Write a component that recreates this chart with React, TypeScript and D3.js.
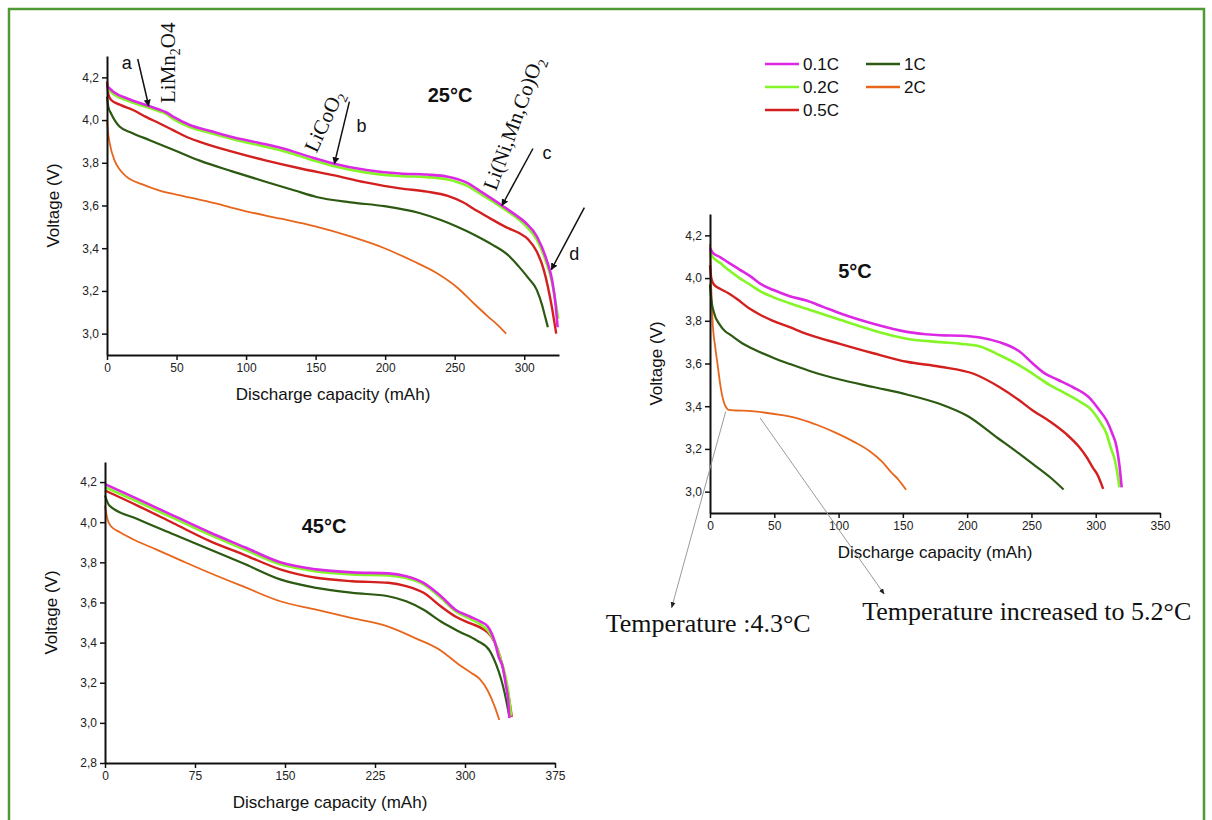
import React, { useEffect, useRef } from 'react';
import * as d3 from 'd3';

type Pt = [number, number];

const rates = ['0.1C', '0.2C', '0.5C', '1C', '2C'];
const rateColors = ['#dc28e4', '#84f526', '#d3201f', '#2c5a12', '#e8661c'];
const rateWidths = [2.6, 2.6, 2.4, 2.2, 1.8];

// 25°C  [capacity mAh, voltage V]
const t25_01C: Pt[] = [[0, 4.16], [5, 4.13], [15, 4.1], [30, 4.066], [38, 4.048], [42, 4.038], [47.5, 4.016], [59.5, 3.977], [75, 3.948], [90.6, 3.92], [108, 3.895], [126.6, 3.867], [145, 3.83], [162.6, 3.797], [186.6, 3.766], [210.6, 3.75], [230, 3.745], [245, 3.735], [259, 3.706], [270, 3.66], [284, 3.6], [294, 3.555], [301, 3.519], [309, 3.456], [316, 3.347], [320, 3.252], [322.7, 3.127], [324, 3.03]];
const t25_02C: Pt[] = [[0, 4.15], [5, 4.12], [15, 4.09], [30, 4.058], [38, 4.04], [42, 4.03], [47.5, 4.006], [59.5, 3.967], [75, 3.938], [90.6, 3.91], [108, 3.884], [126.6, 3.855], [145, 3.818], [162.6, 3.785], [186.6, 3.754], [210.6, 3.738], [230, 3.733], [245, 3.722], [259, 3.692], [270, 3.648], [284, 3.59], [294, 3.545], [301, 3.505], [309, 3.44], [316, 3.33], [320, 3.24], [322.5, 3.15], [324.5, 3.07]];
const t25_05C: Pt[] = [[0, 4.18], [1, 4.12], [3, 4.094], [10, 4.07], [18.7, 4.047], [28, 4.015], [37.9, 3.984], [47.5, 3.953], [57, 3.922], [66.7, 3.898], [90, 3.852], [114.6, 3.81], [140, 3.772], [162.6, 3.742], [186, 3.708], [210.6, 3.68], [230, 3.665], [245, 3.645], [256, 3.615], [266, 3.575], [277, 3.534], [288, 3.495], [296, 3.472], [303, 3.44], [309, 3.385], [314, 3.3], [317, 3.22], [320, 3.12], [321.5, 3.06], [323, 3.0]];
const t25_1C: Pt[] = [[0, 4.11], [1, 4.06], [3, 4.03], [9, 3.97], [18, 3.94], [30.7, 3.906], [48, 3.86], [66.7, 3.81], [90, 3.76], [114.6, 3.71], [135, 3.67], [150.6, 3.64], [175, 3.615], [199.5, 3.597], [224, 3.566], [240, 3.532], [251, 3.503], [265, 3.46], [277, 3.417], [288, 3.37], [296, 3.315], [303, 3.26], [309, 3.205], [313, 3.13], [315, 3.08], [317, 3.03]];
const t25_2C: Pt[] = [[0, 4.0], [1, 3.93], [2, 3.89], [5.5, 3.81], [9, 3.77], [14, 3.735], [25, 3.7], [37.9, 3.67], [50.7, 3.65], [71.5, 3.62], [100, 3.573], [125, 3.538], [149, 3.503], [175, 3.455], [199.5, 3.4], [220, 3.34], [237, 3.284], [252, 3.215], [264, 3.14], [274, 3.08], [281, 3.04], [287, 3.0]];

// 5°C
const t5_01C: Pt[] = [[0, 4.14], [2, 4.12], [7.8, 4.098], [15, 4.07], [23, 4.04], [31, 4.01], [40, 3.97], [49, 3.945], [62, 3.915], [75, 3.895], [88, 3.865], [101, 3.835], [127, 3.786], [153, 3.748], [179, 3.732], [195, 3.73], [210, 3.722], [225, 3.7], [241, 3.655], [251, 3.6], [260, 3.555], [270, 3.525], [282, 3.49], [295, 3.44], [303, 3.38], [308.5, 3.333], [313, 3.27], [316.3, 3.208], [318.5, 3.12], [320.2, 3.02]];
const t5_02C: Pt[] = [[0, 4.12], [2, 4.1], [8, 4.07], [15, 4.035], [23, 4.0], [31, 3.97], [40, 3.935], [49, 3.911], [62, 3.882], [75, 3.856], [101, 3.805], [127, 3.755], [153, 3.716], [179, 3.7], [195, 3.692], [210, 3.68], [225, 3.64], [241, 3.59], [251, 3.552], [264, 3.5], [277, 3.458], [288, 3.42], [295.5, 3.39], [303, 3.33], [308.5, 3.27], [312, 3.2], [315, 3.145], [317, 3.08], [318.4, 3.02]];
const t5_05C: Pt[] = [[0, 4.06], [1, 4.0], [3, 3.97], [7.8, 3.95], [14, 3.93], [20.7, 3.903], [31, 3.856], [40, 3.825], [49, 3.8], [62, 3.77], [75, 3.739], [101, 3.692], [127, 3.648], [153, 3.608], [179, 3.585], [205, 3.552], [225, 3.49], [240, 3.43], [251, 3.38], [264, 3.33], [277, 3.27], [287, 3.21], [293, 3.161], [298, 3.11], [301, 3.083], [305.8, 3.013]];
const t5_1C: Pt[] = [[0, 3.97], [1, 3.9], [3, 3.84], [7.8, 3.78], [12, 3.75], [15.6, 3.735], [25, 3.695], [36, 3.661], [50, 3.625], [62, 3.598], [80, 3.56], [101, 3.525], [127, 3.49], [153, 3.455], [179, 3.41], [200, 3.355], [224, 3.25], [240, 3.18], [251, 3.13], [265, 3.065], [275, 3.01]];
const t5_2C: Pt[] = [[0, 4.16], [1, 3.95], [2, 3.8], [4, 3.68], [6, 3.59], [8, 3.5], [10.4, 3.427], [12.5, 3.395], [14.5, 3.383], [20, 3.38], [30, 3.378], [40, 3.372], [56, 3.358], [70, 3.34], [84, 3.311], [98, 3.275], [112, 3.233], [124, 3.19], [134, 3.139], [141, 3.09], [146, 3.06], [152.5, 3.009]];

// 45°C
const t45_01C: Pt[] = [[0, 4.19], [27, 4.116], [57, 4.033], [87, 3.95], [117, 3.874], [146, 3.8], [176, 3.765], [206, 3.75], [236, 3.745], [251, 3.731], [265.5, 3.698], [280, 3.631], [292, 3.564], [304, 3.53], [313, 3.505], [319, 3.48], [325, 3.4], [328, 3.33], [331.5, 3.276], [334, 3.19], [336, 3.11], [337, 3.024]];
const t45_02C: Pt[] = [[0, 4.175], [27, 4.103], [57, 4.02], [87, 3.938], [117, 3.862], [146, 3.79], [176, 3.755], [206, 3.74], [236, 3.735], [251, 3.722], [265.5, 3.69], [280, 3.622], [292, 3.556], [304, 3.52], [313, 3.49], [319, 3.46], [325, 3.4], [329, 3.33], [333, 3.25], [336, 3.16], [338.4, 3.035]];
const t45_05C: Pt[] = [[0, 4.158], [27, 4.083], [57, 3.995], [87, 3.907], [117, 3.835], [146, 3.765], [176, 3.723], [206, 3.706], [236, 3.698], [251, 3.681], [265.5, 3.648], [280, 3.58], [292, 3.53], [304, 3.497], [316, 3.464], [322, 3.43], [327, 3.37], [331, 3.29], [335, 3.18], [337.5, 3.09], [339, 3.03]];
const t45_1C: Pt[] = [[0, 4.133], [3.6, 4.083], [27, 4.016], [57, 3.94], [87, 3.865], [117, 3.79], [146, 3.715], [176, 3.673], [206, 3.648], [236, 3.631], [251, 3.606], [265.5, 3.564], [280, 3.505], [295, 3.455], [310, 3.41], [320.5, 3.36], [326, 3.29], [330, 3.22], [333, 3.15], [335.5, 3.077], [337, 3.03]];
const t45_2C: Pt[] = [[0, 4.083], [2, 4.016], [5, 3.98], [12.5, 3.95], [25, 3.91], [42, 3.866], [65, 3.805], [87, 3.748], [117, 3.675], [146, 3.606], [176, 3.564], [206, 3.522], [236, 3.48], [259.5, 3.42], [280, 3.36], [295, 3.29], [305, 3.25], [312, 3.22], [319, 3.16], [325, 3.077], [328.6, 3.014]];

const xTicks25 = [0, 50, 100, 150, 200, 250, 300];
const xTicks5 = [0, 50, 100, 150, 200, 250, 300, 350];
const xTicks45 = [0, 75, 150, 225, 300, 375];
const yTicks3 = [3.0, 3.2, 3.4, 3.6, 3.8, 4.0, 4.2];
const yTicks45 = [2.8, 3.0, 3.2, 3.4, 3.6, 3.8, 4.0, 4.2];

const SANS = "'Liberation Sans', Arial, sans-serif";
const SERIF = "'Liberation Serif', 'Times New Roman', serif";

type Panel = {
  series: Pt[][];
  xDomain: [number, number];
  xRange: [number, number];
  yDomain: [number, number];
  yRange: [number, number];
  xTicks: number[];
  yTicks: number[];
  title: string;
  titleAt: [number, number];
};

const fmt = (v: number) => d3.format('.1f')(v).replace('.', ',');

function drawPanel(svg: d3.Selection<SVGSVGElement, unknown, null, undefined>, p: Panel) {
  const x = d3.scaleLinear().domain(p.xDomain).range(p.xRange);
  const y = d3.scaleLinear().domain(p.yDomain).range(p.yRange);
  const g = svg.append('g');

  // curves, slowest rate drawn last
  const line = d3
    .line<Pt>()
    .x((d) => x(d[0]))
    .y((d) => y(d[1]))
    .curve(d3.curveMonotoneX);
  [4, 3, 2, 1, 0].forEach((i) => {
    g.append('path')
      .datum(p.series[i])
      .attr('fill', 'none')
      .attr('stroke', rateColors[i])
      .attr('stroke-width', rateWidths[i])
      .attr('stroke-linejoin', 'round')
      .attr('d', line);
  });

  const xAxis = g
    .append('g')
    .attr('transform', `translate(0,${p.yRange[0]})`)
    .call(d3.axisBottom(x).tickValues(p.xTicks).tickSize(5).tickSizeOuter(0).tickPadding(3).tickFormat((d) => String(d)));
  const yAxis = g
    .append('g')
    .attr('transform', `translate(${p.xRange[0]},0)`)
    .call(d3.axisLeft(y).tickValues(p.yTicks).tickSize(5).tickSizeOuter(0).tickPadding(3).tickFormat((d) => fmt(+d)));
  [xAxis, yAxis].forEach((a) => {
    a.attr('font-family', SANS).attr('font-size', 12);
    a.select('.domain').attr('stroke', '#111').attr('stroke-width', 2);
    a.selectAll('.tick line').attr('stroke', '#111').attr('stroke-width', 1.5);
    a.selectAll('.tick text').attr('fill', '#222');
  });

  const xMid = (p.xRange[0] + p.xRange[1]) / 2;
  g.append('text')
    .attr('x', xMid)
    .attr('y', p.yRange[0] + 45)
    .attr('text-anchor', 'middle')
    .attr('font-family', SANS)
    .attr('font-size', 17)
    .attr('fill', '#111')
    .text('Discharge capacity (mAh)');

  const yMid = (p.yRange[0] + p.yRange[1]) / 2;
  g.append('text')
    .attr('transform', `translate(${p.xRange[0] - 48},${yMid}) rotate(-90)`)
    .attr('text-anchor', 'middle')
    .attr('font-family', SANS)
    .attr('font-size', 17)
    .attr('fill', '#111')
    .text('Voltage (V)');

  g.append('text')
    .attr('x', p.titleAt[0])
    .attr('y', p.titleAt[1])
    .attr('text-anchor', 'middle')
    .attr('font-family', SANS)
    .attr('font-size', 20)
    .attr('font-weight', 'bold')
    .attr('fill', '#111')
    .text(p.title);

  return { x, y };
}

export default function App() {
  const ref = useRef<SVGSVGElement>(null);

  useEffect(() => {
    const svg = d3.select(ref.current!);
    svg.selectAll('*').remove();

    const defs = svg.append('defs');
    defs
      .append('marker')
      .attr('id', 'arrowBlack')
      .attr('viewBox', '0 0 10 10')
      .attr('refX', 9)
      .attr('refY', 5)
      .attr('markerWidth', 7)
      .attr('markerHeight', 7)
      .attr('markerUnits', 'userSpaceOnUse')
      .attr('orient', 'auto')
      .append('path')
      .attr('d', 'M0,0L10,5L0,10z')
      .attr('fill', '#111');
    defs
      .append('marker')
      .attr('id', 'arrowGray')
      .attr('viewBox', '0 0 10 10')
      .attr('refX', 9)
      .attr('refY', 5)
      .attr('markerWidth', 6)
      .attr('markerHeight', 6)
      .attr('markerUnits', 'userSpaceOnUse')
      .attr('orient', 'auto')
      .append('path')
      .attr('d', 'M0,1L10,5L0,9z')
      .attr('fill', '#222');

    // green frame
    svg.append('path')
      .attr('d', 'M9,830V9H1204V830')
      .attr('fill', 'none')
      .attr('stroke', '#4f9a33')
      .attr('stroke-width', 2.5);

    const p25 = drawPanel(svg, {
      series: [t25_01C, t25_02C, t25_05C, t25_1C, t25_2C],
      xDomain: [0, 325],
      xRange: [107, 559],
      yDomain: [2.9, 4.3],
      yRange: [355, 56],
      xTicks: xTicks25,
      yTicks: yTicks3,
      title: '25°C',
      titleAt: [450, 102],
    });
    const p5 = drawPanel(svg, {
      series: [t5_01C, t5_02C, t5_05C, t5_1C, t5_2C],
      xDomain: [0, 350],
      xRange: [710, 1160],
      yDomain: [2.9, 4.3],
      yRange: [513, 214],
      xTicks: xTicks5,
      yTicks: yTicks3,
      title: '5°C',
      titleAt: [855, 278],
    });
    drawPanel(svg, {
      series: [t45_01C, t45_02C, t45_05C, t45_1C, t45_2C],
      xDomain: [0, 375],
      xRange: [105, 555],
      yDomain: [2.8, 4.3],
      yRange: [763, 462],
      xTicks: xTicks45,
      yTicks: yTicks45,
      title: '45°C',
      titleAt: [324, 533],
    });

    // 25°C annotations: arrow tip sits on the curve
    const notes25 = [
      { label: 'a', at: [30, 4.066], tail: [-11, -47], lab: [-22, -37], chem: 'LiMn|2|O4', chemAt: [26, -3], angle: -90 },
      { label: 'b', at: [163.5, 3.796], tail: [15, -62], lab: [27, -32], chem: 'LiCoO|2|', chemAt: [-18, -10], angle: -65 },
      { label: 'c', at: [284, 3.6], tail: [31, -57], lab: [45, -47], chem: 'Li(Ni,Mn,Co)O|2|', chemAt: [-6, -14], angle: -70 },
      { label: 'd', at: [319.5, 3.3], tail: [33, -62], lab: [23, -10], chem: '', chemAt: [0, 0], angle: 0 },
    ];
    notes25.forEach((n) => {
      const tx = p25.x(n.at[0]);
      const ty = p25.y(n.at[1]);
      svg.append('line')
        .attr('x1', tx + n.tail[0])
        .attr('y1', ty + n.tail[1])
        .attr('x2', tx)
        .attr('y2', ty)
        .attr('stroke', '#111')
        .attr('stroke-width', 1.5)
        .attr('marker-end', 'url(#arrowBlack)');
      svg.append('text')
        .attr('x', tx + n.lab[0])
        .attr('y', ty + n.lab[1])
        .attr('text-anchor', 'middle')
        .attr('font-family', SANS)
        .attr('font-size', 18)
        .attr('fill', '#111')
        .text(n.label);
      if (n.chem) {
        const parts = n.chem.split('|');
        const t = svg.append('text')
          .attr('transform', `translate(${tx + n.chemAt[0]},${ty + n.chemAt[1]}) rotate(${n.angle})`)
          .attr('font-family', SERIF)
          .attr('font-size', 21)
          .attr('fill', '#111');
        parts.forEach((s, i) => {
          if (!s) return;
          const span = t.append('tspan').text(s);
          if (i % 2 === 1) span.attr('font-size', 14).attr('dy', 5);
          else if (i > 0) span.attr('dy', -5);
        });
      }
    });

    // 5°C temperature notes
    const notes5 = [
      { text: 'Temperature :4.3°C', at: [12.2, 3.375], end: [-54, 196], textAt: [-120, 220] },
      { text: 'Temperature increased to 5.2°C', at: [39, 3.345], end: [124, 176], textAt: [102, 202] },
    ];
    notes5.forEach((n) => {
      const sx = p5.x(n.at[0]);
      const sy = p5.y(n.at[1]);
      svg.append('line')
        .attr('x1', sx)
        .attr('y1', sy)
        .attr('x2', sx + n.end[0])
        .attr('y2', sy + n.end[1])
        .attr('stroke', '#9a9a9a')
        .attr('stroke-width', 1)
        .attr('marker-end', 'url(#arrowGray)');
      svg.append('text')
        .attr('x', sx + n.textAt[0])
        .attr('y', sy + n.textAt[1])
        .attr('font-family', SERIF)
        .attr('font-size', 26)
        .attr('fill', '#111')
        .text(n.text);
    });

    // legend
    const legend = svg.append('g').attr('font-family', SANS).attr('font-size', 17).attr('fill', '#111');
    rates.forEach((r, i) => {
      const col = i < 3 ? 0 : 1;
      const row = i < 3 ? i : i - 3;
      const lx = col === 0 ? 765 : 866;
      const ly = 64 + row * 23;
      legend.append('line')
        .attr('x1', lx)
        .attr('x2', lx + 34)
        .attr('y1', ly)
        .attr('y2', ly)
        .attr('stroke', rateColors[i])
        .attr('stroke-width', 2.6);
      legend.append('text')
        .attr('x', lx + 38)
        .attr('y', ly + 6)
        .text(r);
    });
  }, []);

  return (
    <svg
      ref={ref}
      width={1212}
      height={820}
      style={{ position: 'absolute', left: 0, top: 0, background: '#fff' }}
    />
  );
}
